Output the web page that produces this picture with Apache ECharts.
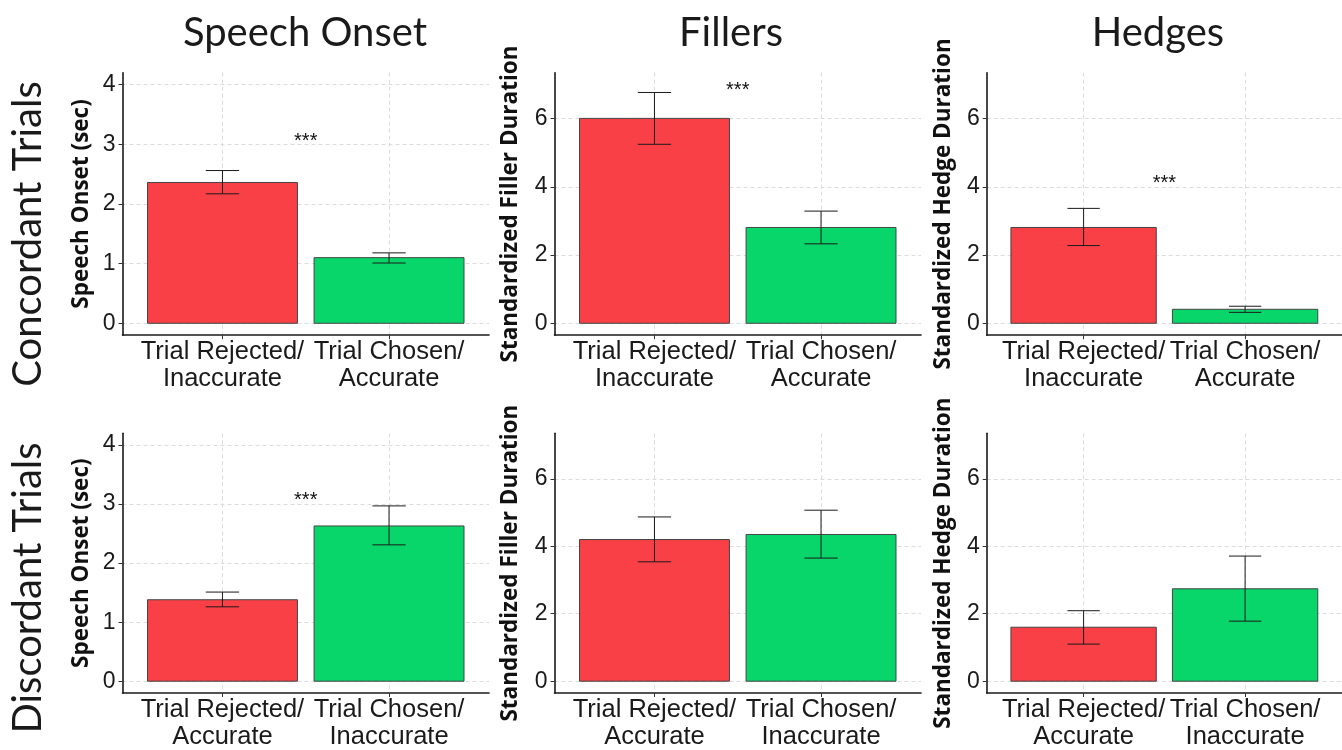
<!DOCTYPE html>
<html>
<head>
<meta charset="utf-8">
<script src="https://cdn.jsdelivr.net/npm/echarts@6/dist/echarts.min.js"></script>
<style>
html,body{margin:0;padding:0;background:#fff;}
#chart{width:1342px;height:750px;}
</style>
</head>
<body>
<div id="chart"></div>
<script>
// ---------- data ----------
const categoriesConcordant = ['Trial Rejected/\nInaccurate', 'Trial Chosen/\nAccurate'];
const categoriesDiscordant = ['Trial Rejected/\nAccurate', 'Trial Chosen/\nInaccurate'];
const columnTitles = ['Speech Onset', 'Fillers', 'Hedges'];
const rowTitles = ['Concordant Trials', 'Discordant Trials'];
const yAxisTitles = ['Speech Onset (sec)', 'Standardized Filler Duration', 'Standardized Hedge Duration'];
const speechOnsetTicks = [0, 1, 2, 3, 4];
const durationTicks = [0, 2, 4, 6];
const categoryPositions = [1, 2];

const speechConcordantMean = [2.36, 1.10];
const speechConcordantLow  = [2.17, 1.01];
const speechConcordantHigh = [2.56, 1.18];
const fillerConcordantMean = [6.01, 2.81];
const fillerConcordantLow  = [5.25, 2.33];
const fillerConcordantHigh = [6.77, 3.29];
const hedgeConcordantMean  = [2.81, 0.41];
const hedgeConcordantLow   = [2.28, 0.32];
const hedgeConcordantHigh  = [3.37, 0.50];

const speechDiscordantMean = [1.38, 2.63];
const speechDiscordantLow  = [1.26, 2.31];
const speechDiscordantHigh = [1.51, 2.97];
const fillerDiscordantMean = [4.20, 4.35];
const fillerDiscordantLow  = [3.54, 3.65];
const fillerDiscordantHigh = [4.87, 5.07];
const hedgeDiscordantMean  = [1.60, 2.74];
const hedgeDiscordantLow   = [1.10, 1.78];
const hedgeDiscordantHigh  = [2.09, 3.71];

// significance marker height per panel (null = none)
const significanceLabel = '***';
const significanceY = [3.05, 6.84, 4.10, 3.07, null, null];

// ---------- layout / style ----------
const barColors = ['#F94046', '#08D66A'];
const colLeft = [122.5, 554.5, 986.7];
const colWidth = 366.5;
const rowTop = [72.7, 433.3];
const rowHeight = 262.5;
const nameGaps = [29, 32, 32];

const panels = [
  {mean: speechConcordantMean, low: speechConcordantLow, high: speechConcordantHigh, cats: categoriesConcordant, col: 0, row: 0},
  {mean: fillerConcordantMean, low: fillerConcordantLow, high: fillerConcordantHigh, cats: categoriesConcordant, col: 1, row: 0},
  {mean: hedgeConcordantMean,  low: hedgeConcordantLow,  high: hedgeConcordantHigh,  cats: categoriesConcordant, col: 2, row: 0},
  {mean: speechDiscordantMean, low: speechDiscordantLow, high: speechDiscordantHigh, cats: categoriesDiscordant, col: 0, row: 1},
  {mean: fillerDiscordantMean, low: fillerDiscordantLow, high: fillerDiscordantHigh, cats: categoriesDiscordant, col: 1, row: 1},
  {mean: hedgeDiscordantMean,  low: hedgeDiscordantLow,  high: hedgeDiscordantHigh,  cats: categoriesDiscordant, col: 2, row: 1}
];

const grids = [], xAxes = [], yAxes = [], series = [];
const axisColor = '#1a1a1a';
const gridColor = '#dcdcdc';

panels.forEach((p, i) => {
  const ticks = p.col === 0 ? speechOnsetTicks : durationTicks;
  const yMin = p.col === 0 ? -0.2 : -0.35;
  const yMax = p.col === 0 ? 4.2 : 7.35;
  grids.push({left: colLeft[p.col], top: rowTop[p.row], width: colWidth, height: rowHeight, containLabel: false});
  xAxes.push({
    type: 'value', gridIndex: i, min: 0.4, max: 2.6,
    axisLine: {show: true, onZero: false, lineStyle: {color: axisColor, width: 1.6}},
    axisTick: {show: true, customValues: categoryPositions, length: 4, lineStyle: {color: '#333', width: 1}},
    axisLabel: {customValues: categoryPositions, margin: 3, fontFamily: 'Liberation Sans', fontSize: 25.5, lineHeight: 27, color: '#1a1a1a',
      formatter: v => p.cats[Math.round(v) - 1]},
    splitLine: {show: true, lineStyle: {color: gridColor, type: [4, 3], width: 1}}
  });
  yAxes.push({
    type: 'value', gridIndex: i, min: yMin, max: yMax,
    name: yAxisTitles[p.col], nameLocation: 'middle', nameGap: nameGaps[p.col],
    nameTextStyle: {fontFamily: 'Open Sans', fontWeight: 'bold', fontSize: 22.5, color: '#111'},
    axisLine: {show: true, onZero: false, lineStyle: {color: axisColor, width: 1.6}},
    axisTick: {show: true, customValues: ticks, length: 4, lineStyle: {color: '#333', width: 1}},
    axisLabel: {customValues: ticks, margin: 7, fontFamily: 'Liberation Sans', fontSize: 23, color: '#1a1a1a'},
    splitLine: {show: true, lineStyle: {color: gridColor, type: [4, 3], width: 1}}
  });
  // bars
  series.push({
    type: 'custom', xAxisIndex: i, yAxisIndex: i,
    data: categoryPositions.map((x, k) => [x, p.mean[k]]),
    renderItem: (params, api) => {
      const x = api.value(0), y = api.value(1);
      const a = api.coord([x - 0.45, y]);
      const b = api.coord([x + 0.45, 0]);
      return {type: 'rect', shape: {x: a[0], y: a[1], width: b[0] - a[0], height: b[1] - a[1]},
        style: {fill: barColors[params.dataIndex], stroke: '#444', lineWidth: 1}};
    },
    z: 3
  });
  // error bars
  series.push({
    type: 'custom', xAxisIndex: i, yAxisIndex: i,
    data: categoryPositions.map((x, k) => [x, p.low[k], p.high[k]]),
    renderItem: (params, api) => {
      const x = api.value(0), lo = api.value(1), hi = api.value(2);
      const top = api.coord([x, hi]), bot = api.coord([x, lo]);
      const l = api.coord([x - 0.1, hi])[0], r = api.coord([x + 0.1, hi])[0];
      const st = {stroke: '#1a1a1a', lineWidth: 1};
      return {type: 'group', children: [
        {type: 'line', shape: {x1: top[0], y1: top[1], x2: bot[0], y2: bot[1]}, style: st},
        {type: 'line', shape: {x1: l, y1: top[1], x2: r, y2: top[1]}, style: st},
        {type: 'line', shape: {x1: l, y1: bot[1], x2: r, y2: bot[1]}, style: st}
      ]};
    },
    z: 4
  });
  if (significanceY[i] !== null) {
    series.push({
      type: 'custom', xAxisIndex: i, yAxisIndex: i,
      data: [[1.5, significanceY[i]]],
      renderItem: (params, api) => {
        const c = api.coord([api.value(0), api.value(1)]);
        return {type: 'text', x: c[0], y: c[1],
          style: {text: significanceLabel, fill: '#111', fontSize: 20, fontFamily: 'Liberation Sans', align: 'center', verticalAlign: 'middle'}};
      },
      z: 5
    });
  }
});

const titleCenters = [305, 731, 1158];
const graphics = [];
columnTitles.forEach((t, k) => {
  graphics.push({type: 'text', x: titleCenters[k], y: 33,
    style: {text: t, fontFamily: 'Lato', fontWeight: 'normal', fontSize: 40, fill: '#1a1a1a', align: 'center', verticalAlign: 'middle'}});
});
const rowCenters = [234, 588];
rowTitles.forEach((t, k) => {
  graphics.push({type: 'text', x: 28, y: rowCenters[k], rotation: Math.PI / 2,
    style: {text: t, fontFamily: 'Lato', fontWeight: 'normal', fontSize: 40, fill: '#1a1a1a', align: 'center', verticalAlign: 'middle'}});
});

const chart = echarts.init(document.getElementById('chart'), null, {renderer: 'canvas'});
chart.setOption({
  animation: false,
  backgroundColor: '#ffffff',
  grid: grids,
  xAxis: xAxes,
  yAxis: yAxes,
  series: series,
  graphic: graphics
});
</script>
</body>
</html>
